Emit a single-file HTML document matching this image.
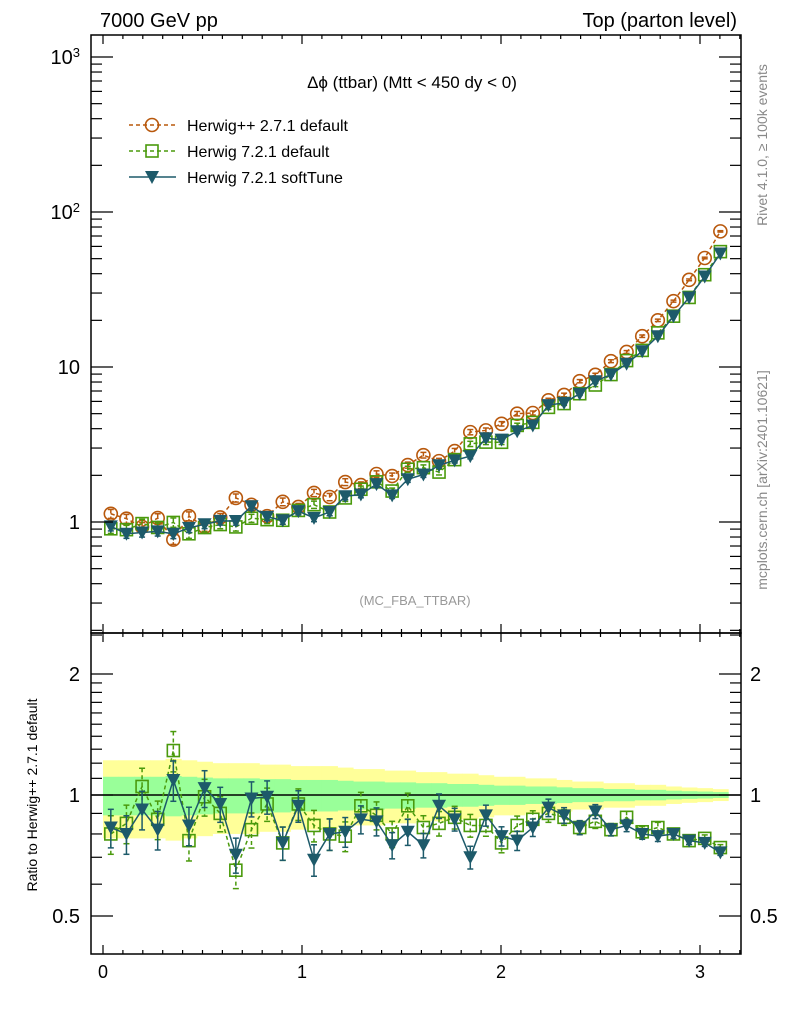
<!DOCTYPE html>
<html><head><meta charset="utf-8"><style>
body{margin:0;background:#fff;width:786px;height:1024px;overflow:hidden}
svg{display:block;font-family:"Liberation Sans",sans-serif}
</style></head><body>
<svg id="chart" width="786" height="1024" viewBox="0 0 786 1024" xmlns="http://www.w3.org/2000/svg">
<text x="100" y="27" font-size="20">7000 GeV pp</text>
<text x="737" y="27" font-size="20" text-anchor="end">Top (parton level)</text>
<text x="412" y="88" font-size="17" text-anchor="middle">Δϕ (ttbar) (Mtt &lt; 450 dy &lt; 0)</text>
<text x="415" y="605" font-size="13" fill="#999" text-anchor="middle">(MC_FBA_TTBAR)</text>
<text transform="translate(767,145) rotate(-90)" font-size="14" fill="#888" text-anchor="middle">Rivet 4.1.0, ≥ 100k events</text>
<text transform="translate(767,480) rotate(-90)" font-size="14" fill="#888" text-anchor="middle">mcplots.cern.ch [arXiv:2401.10621]</text>
<text transform="translate(37,795) rotate(-90)" font-size="14" text-anchor="middle">Ratio to Herwig++ 2.7.1 default</text>
<g id="bands"></g><g id="series"></g><g id="axes"></g><g id="legend"></g>
</svg>
<script>
const binLo = 0, binHi = Math.PI, nBins = 40;
const refValues = [1.13,1.05,0.93,1.06,0.77,1.09,0.93,1.07,1.43,1.29,1.09,1.35,1.25,1.54,1.45,1.81,1.73,2.04,1.98,2.33,2.7,2.47,2.87,3.8,3.9,4.3,5.0,5.05,6.1,6.6,8.1,8.9,10.9,12.5,15.8,20,26.6,36.5,50.5,75];
const greenRatio = [0.80,0.85,1.05,0.87,1.29,0.77,0.99,0.90,0.65,0.82,0.95,0.76,0.95,0.84,0.80,0.79,0.94,0.89,0.80,0.94,0.83,0.85,0.88,0.84,0.84,0.76,0.84,0.87,0.90,0.88,0.83,0.86,0.82,0.88,0.81,0.83,0.80,0.77,0.78,0.74];
const blueRatio = [0.83,0.80,0.92,0.82,1.09,0.84,1.04,0.95,0.71,0.98,0.99,0.76,0.94,0.69,0.80,0.81,0.87,0.86,0.75,0.81,0.75,0.94,0.87,0.70,0.89,0.79,0.77,0.83,0.93,0.89,0.83,0.91,0.82,0.84,0.80,0.79,0.80,0.77,0.76,0.72];
const relErr = [0.11,0.11,0.11,0.11,0.115,0.11,0.105,0.10,0.10,0.10,0.095,0.095,0.09,0.09,0.09,0.085,0.08,0.08,0.075,0.075,0.07,0.07,0.065,0.065,0.06,0.055,0.055,0.05,0.05,0.045,0.04,0.04,0.035,0.035,0.03,0.03,0.025,0.022,0.02,0.017];
const xTicks = [0,1,2,3];
const mainTicks = [[1,"1"],[10,"10"],[100,"10<tspan dy='-7' font-size='13'>2</tspan>"],[1000,"10<tspan dy='-7' font-size='13'>3</tspan>"]];
const ratioTicks = [[0.5,"0.5"],[1,"1"],[2,"2"]];

const NS="http://www.w3.org/2000/svg";
const L=91,R=741,T=35,M=633,B=954;
const X=v=>103+199*v;
const Ym=v=>522-155*Math.log10(v);
const Yr=v=>795-402*Math.log10(v);
function mk(tag,attrs,parent){const e=document.createElementNS(NS,tag);for(const k in attrs)e.setAttribute(k,attrs[k]);parent.appendChild(e);return e;}
const bands=document.getElementById('bands'),series=document.getElementById('series'),axes=document.getElementById('axes'),legend=document.getElementById('legend');
const w=(binHi-binLo)/nBins;
const centers=refValues.map((_,i)=>binLo+(i+0.5)*w);
[['#ffff99',2,'yellow-band'],['#99ff99',1,'green-band']].forEach(([c,k,n])=>{
 relErr.forEach((e,i)=>{
  const r=mk('rect',{x:X(binLo+i*w),width:X(binLo+(i+1)*w)-X(binLo+i*w)+0.5,y:Yr(1+k*e),height:Yr(1-k*e)-Yr(1+k*e),fill:c},bands);
  
  
 });
});
const ln=mk('line',{x1:L,x2:R,y1:Yr(1),y2:Yr(1),stroke:'#000','stroke-width':1.5},bands);


function marker(type,x,y,col,g){
 if(type==='c')return mk('circle',{cx:x,cy:y,r:6.5,fill:'none',stroke:col,'stroke-width':1.6},g);
 if(type==='s')return mk('rect',{x:x-6,y:y-6,width:12,height:12,fill:'none',stroke:col,'stroke-width':1.6},g);
 return mk('path',{d:`M${x-7},${y-6}L${x+7},${y-6}L${x},${y+7}Z`,fill:col},g);
}
function drawSeries(vals,Y,col,type,dash,name,ef){
 const g=mk('g',{},series);
 
 
 const pts=vals.map((v,i)=>X(centers[i])+','+Y(v)).join(' ');
 mk('polyline',{points:pts,fill:'none',stroke:col,'stroke-width':1.5,'stroke-dasharray':dash},g);
 vals.forEach((v,i)=>{
  const x=X(centers[i]),y1=Y(v*(1+ef*relErr[i])),y2=Y(v*(1-ef*relErr[i]));
  mk('line',{x1:x,x2:x,y1:y1,y2:y2,stroke:col,'stroke-width':1.5,'stroke-dasharray':dash},g);
  mk('line',{x1:x-3,x2:x+3,y1:y1,y2:y1,stroke:col,'stroke-width':1.5},g);
  mk('line',{x1:x-3,x2:x+3,y1:y2,y2:y2,stroke:col,'stroke-width':1.5},g);
  const m=marker(type,x,Y(v),col,g);
  
  
 });
}
const OR='#b8580c',GR='#4a9a0c',BL='#1d5a6a';
const greenVals=refValues.map((v,i)=>v*greenRatio[i]);
const blueVals=refValues.map((v,i)=>v*blueRatio[i]);
drawSeries(refValues,Ym,OR,'c','4,3','herwigpp-series',0.6);
drawSeries(greenVals,Ym,GR,'s','4,3','herwig7-default-series',0.6);
drawSeries(blueVals,Ym,BL,'t','none','herwig7-softtune-series',0.6);
drawSeries(greenRatio,Yr,GR,'s','4,3','herwig7-default-ratio',1);
drawSeries(blueRatio,Yr,BL,'t','none','herwig7-softtune-ratio',1);
const f1=mk('rect',{x:L,y:T,width:R-L,height:M-T,fill:'none',stroke:'#000','stroke-width':1.5},axes);


const f2=mk('rect',{x:L,y:M,width:R-L,height:B-M,fill:'none',stroke:'#000','stroke-width':1.5},axes);


for(let k=0;k<=32;k++){const v=k/10,x=X(v);if(x>R)break;const maj=k%10===0,len=maj?9:4;
 [[T,1],[M,-1],[M,1],[B,-1]].forEach(([y,d])=>mk('line',{x1:x,x2:x,y1:y,y2:y+d*len,stroke:'#000','stroke-width':1.2},axes));}
xTicks.forEach(v=>{const t=mk('text',{x:X(v),y:978,'font-size':18,'text-anchor':'middle'},axes);t.textContent=v;
 
 });
for(let e=-1;e<=3;e++)for(let m=1;m<=9;m++){const v=m*Math.pow(10,e),y=Ym(v);if(y<T||y>M)continue;const len=m===1?22:11;
 mk('line',{x1:L,x2:L+len,y1:y,y2:y,stroke:'#000','stroke-width':1.2},axes);mk('line',{x1:R,x2:R-len,y1:y,y2:y,stroke:'#000','stroke-width':1.2},axes);}
mainTicks.forEach(([v,s])=>{const t=mk('text',{x:80,y:Ym(v)+7,'font-size':20,'text-anchor':'end'},axes);t.innerHTML=s;
 
 });
[0.5,0.6,0.7,0.8,0.9,1,1.1,1.2,1.3,1.4,1.5,1.6,1.7,1.8,1.9,2,2.5].forEach(v=>{const y=Yr(v);if(y<M||y>B)return;const len=(v===0.5||v===1||v===2)?22:11;
 mk('line',{x1:L,x2:L+len,y1:y,y2:y,stroke:'#000','stroke-width':1.2},axes);mk('line',{x1:R,x2:R-len,y1:y,y2:y,stroke:'#000','stroke-width':1.2},axes);});
ratioTicks.forEach(([v,s])=>{[[80,'end'],[750,'start']].forEach(([x,a])=>{const t=mk('text',{x:x,y:Yr(v)+7,'font-size':20,'text-anchor':a},axes);t.textContent=s;
 
 });});
[['Herwig++ 2.7.1 default',OR,'c','4,3',125],['Herwig 7.2.1 default',GR,'s','4,3',151],['Herwig 7.2.1 softTune',BL,'t','none',177]].forEach(([lab,c,ty,d,y])=>{
 const g=mk('g',{},legend);
 
 
 mk('line',{x1:129,x2:176,y1:y,y2:y,stroke:c,'stroke-width':1.5,'stroke-dasharray':d},g);
 marker(ty,152,y,c,g);
 const t=mk('text',{x:187,y:y+6,'font-size':16},g);t.textContent=lab;});
</script>
</body></html>
